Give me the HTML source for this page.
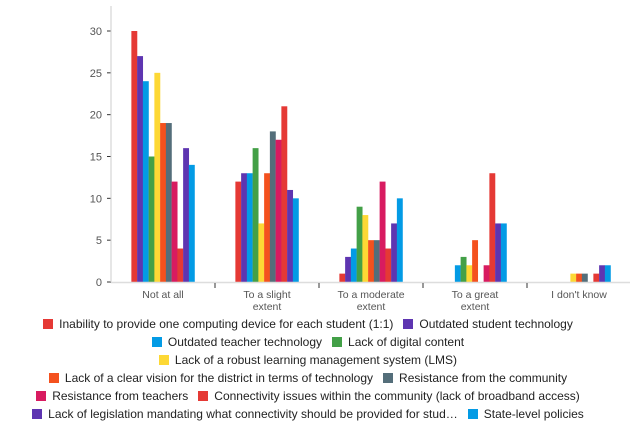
<!DOCTYPE html>
<html><head><meta charset="utf-8"><style>
body{margin:0;background:#fff;font-family:"Liberation Sans",sans-serif;}
#wrap{position:relative;width:630px;height:440px;overflow:hidden;}
.row{position:absolute;left:0;width:616px;display:flex;justify-content:center;gap:10px;font-size:12px;color:#222;height:18px;align-items:center;}
.item{display:flex;align-items:center;white-space:nowrap;}
.sw{width:10px;height:10px;margin-right:6px;display:inline-block;}
</style></head><body>
<div id="wrap">
<svg id="chart" width="630" height="310" style="position:absolute;left:0;top:0"></svg>
<div id="legend"></div>
</div>
<script>
const categories=[["Not at all"],["To a slight","extent"],["To a moderate","extent"],["To a great","extent"],["I don't know"]];
const seriesNames=["Inability to provide one computing device for each student (1:1)","Outdated student technology","Outdated teacher technology","Lack of digital content","Lack of a robust learning management system (LMS)","Lack of a clear vision for the district in terms of technology","Resistance from the community","Resistance from teachers","Connectivity issues within the community (lack of broadband access)","Lack of legislation mandating what connectivity should be provided for stud\u2026","State-level policies"];
const colors=["#e53935","#5e35b1","#039be5","#43a047","#fdd835","#f4511e","#546e7a","#d81b60","#e53935","#5e35b1","#039be5"];
const s1=[30,12,1,0,0];
const s2=[27,13,3,0,0];
const s3=[24,13,4,2,0];
const s4=[15,16,9,3,0];
const s5=[25,7,8,2,1];
const s6=[19,13,5,5,1];
const s7=[19,18,5,0,1];
const s8=[12,17,12,2,0];
const s9=[4,21,4,13,1];
const s10=[16,11,7,7,2];
const s11=[14,10,10,7,2];
const series=[s1,s2,s3,s4,s5,s6,s7,s8,s9,s10,s11];
const yTicks=[0,5,10,15,20,25,30];
const NS="http://www.w3.org/2000/svg";
const svg=document.getElementById('chart');
const x0=111,x1=631,y0=282,yMax=30,yTop=31;
const bandW=(x1-x0)/categories.length;
function y(v){return y0-(v/yMax)*(y0-yTop);}
function bx(c,s){return x0+bandW*c+bandW/2-(series.length*5.75)/2+s*5.75;}
function mk(t,a){const e=document.createElementNS(NS,t);for(const k in a)e.setAttribute(k,a[k]);svg.appendChild(e);return e;}
yTicks.forEach(v=>{
 const t=mk('text',{x:102,y:y(v)+4,'text-anchor':'end','font-size':'11',fill:'#555'});
 t.textContent=v;
 
 
 const l=mk('line',{x1:107,x2:111,y1:y(v),y2:y(v),stroke:'#333'});
 
 
});
const ya=mk('line',{x1:x0,x2:x0,y1:6,y2:y0,stroke:'#ccc'});


series.forEach((arr,s)=>arr.forEach((v,c)=>{
 if(!v)return;
 const r=mk('rect',{x:bx(c,s),y:y(v),width:5.9,height:y0-y(v),fill:colors[s]});
 
 
}));
const xa=mk('line',{x1:x0,x2:630,y1:y0+0.5,y2:y0+0.5,stroke:'#ddd','stroke-width':1.5});


categories.forEach((lab,c)=>{
 if(c>0){const tk=mk('line',{x1:x0+bandW*c,x2:x0+bandW*c,y1:y0+1,y2:y0+6,stroke:'#333'});
 
 }
 lab.forEach((ln,i)=>{
  const t=mk('text',{x:x0+bandW*c+bandW/2,y:298+i*12,'text-anchor':'middle','font-size':'10.5',fill:'#555'});
  t.textContent=ln;
  
  
 });
});
const rows=[[0,1],[2,3],[4],[5,6],[7,8],[9,10]];
const leg=document.getElementById('legend');
rows.forEach((r,i)=>{
 const d=document.createElement('div');d.className='row';d.style.top=(315+i*18)+'px';
 
 
 r.forEach(s=>{
  const it=document.createElement('div');it.className='item';
  
  
  it.innerHTML='<span class="sw" style="background:'+colors[s]+'"></span>'+seriesNames[s];
  d.appendChild(it);
 });
 leg.appendChild(d);
});
</script>
</body></html>
